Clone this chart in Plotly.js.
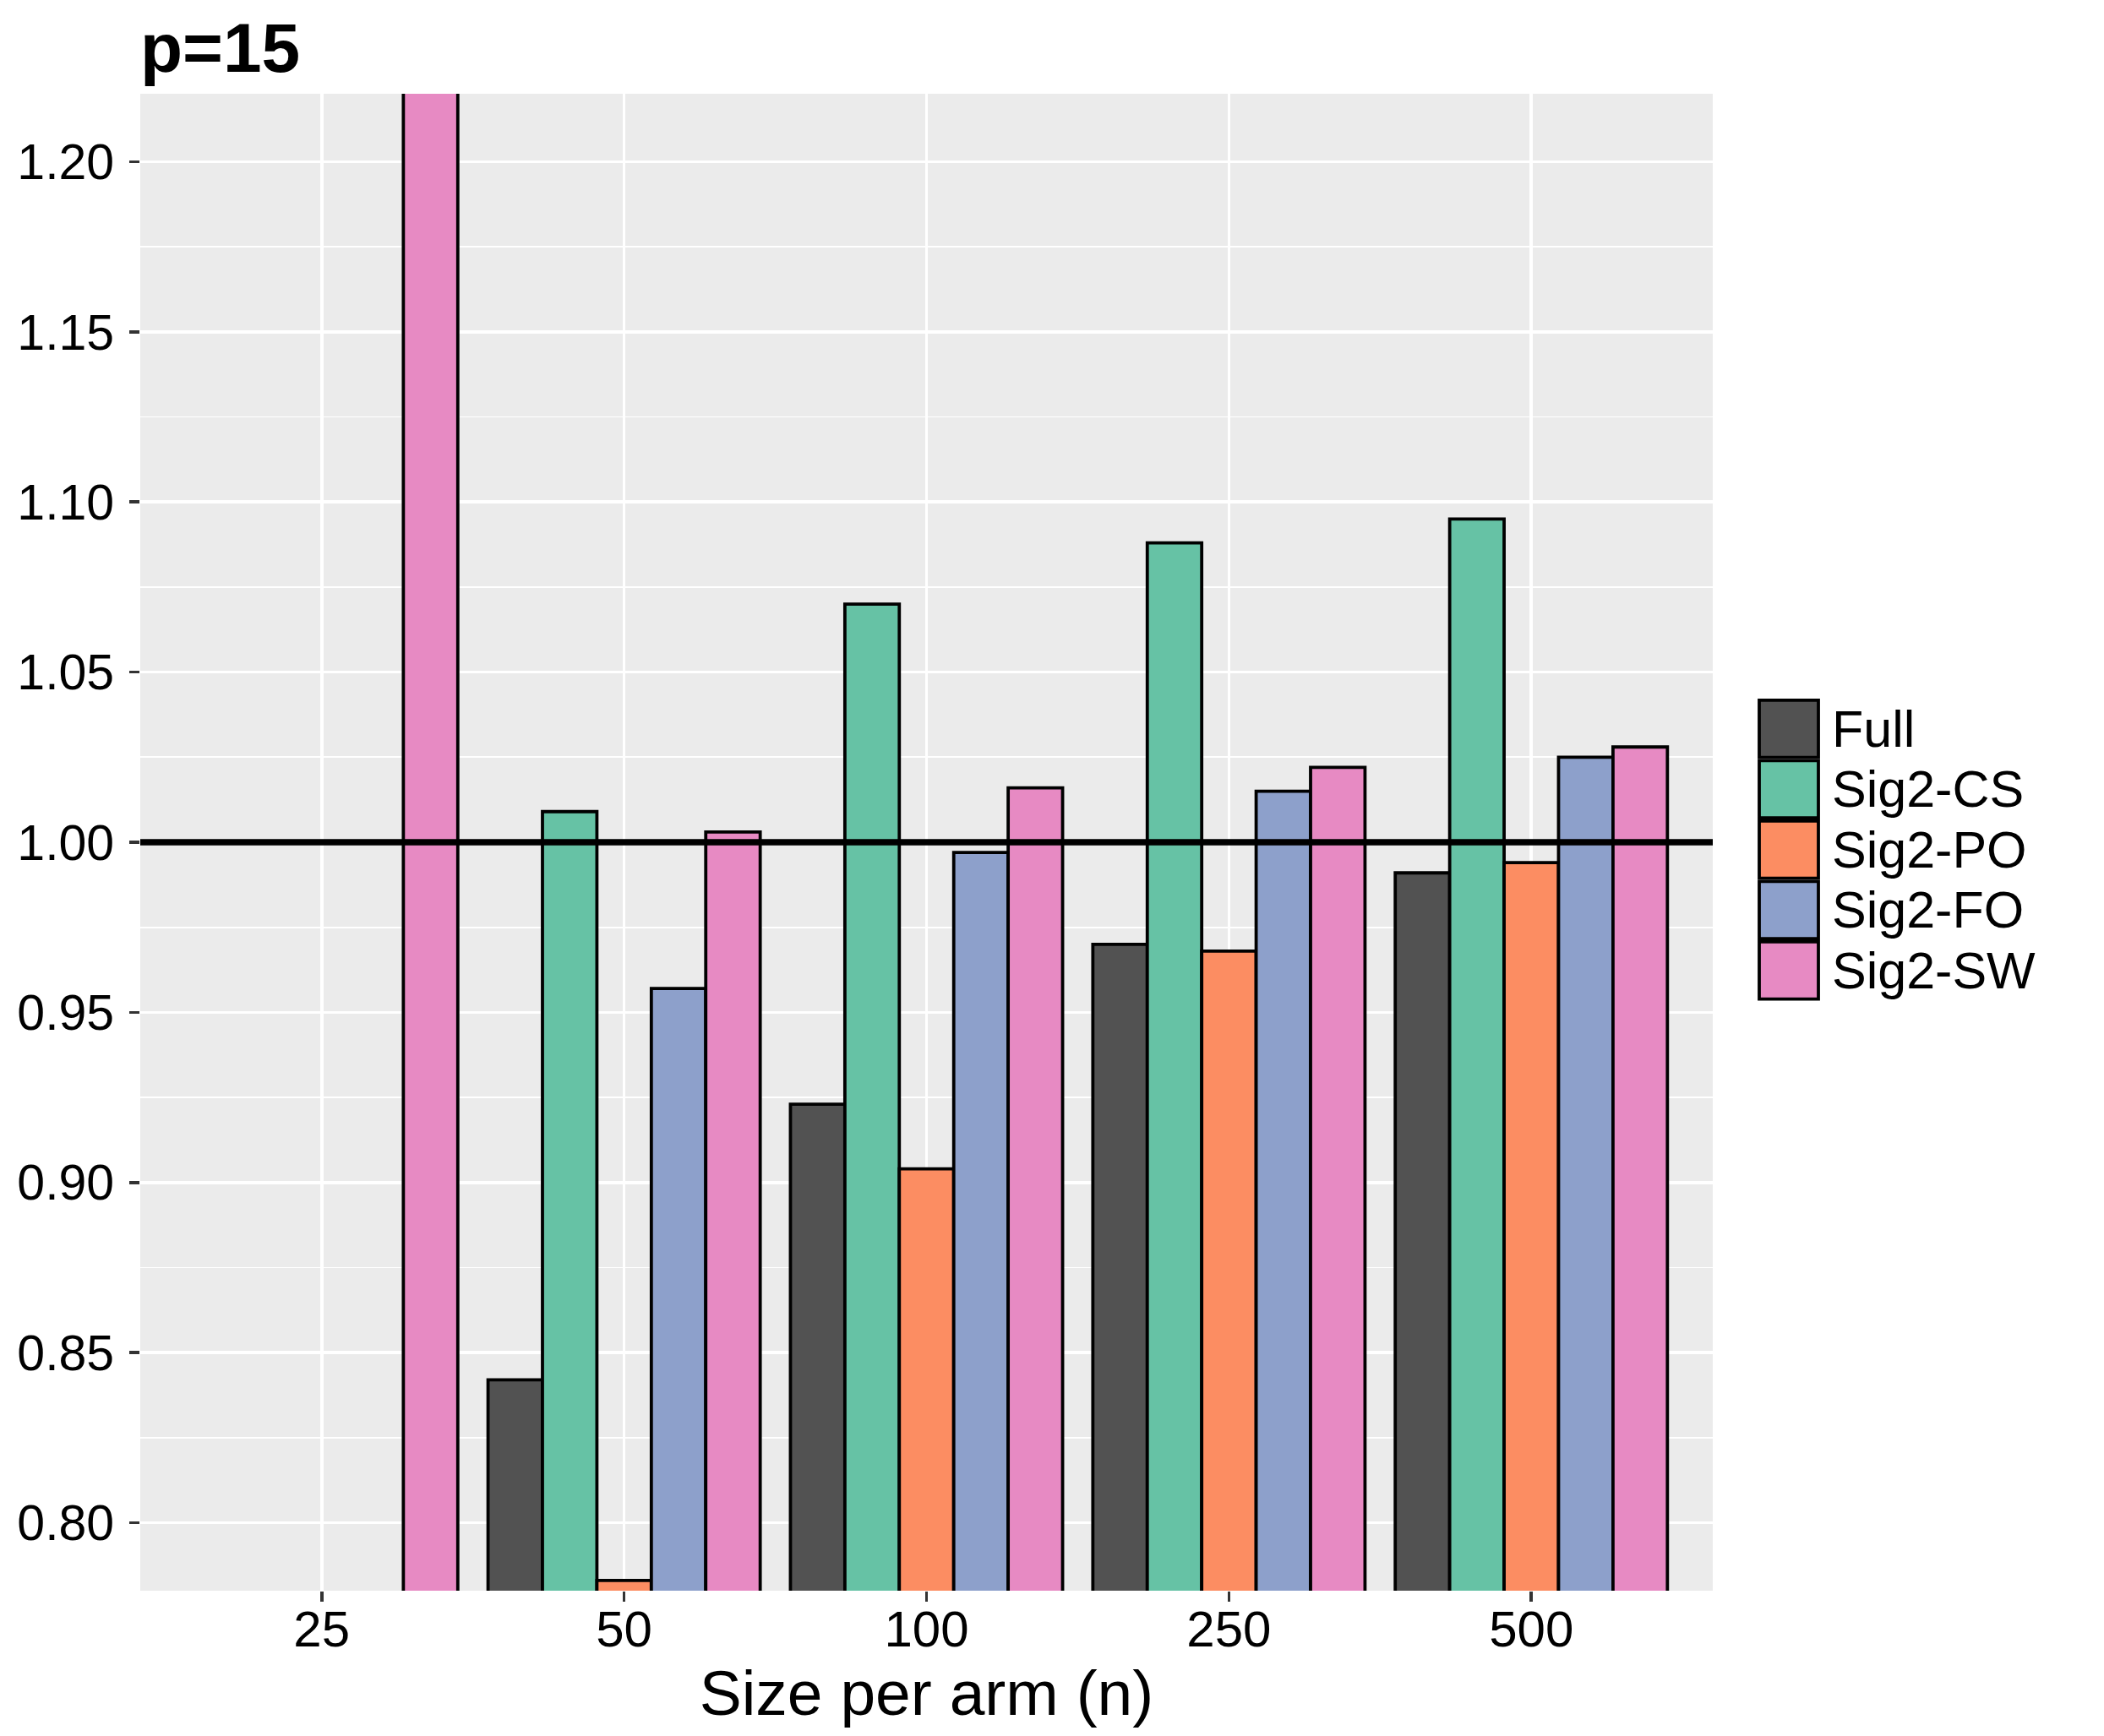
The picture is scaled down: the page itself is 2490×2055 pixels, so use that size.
<!DOCTYPE html>
<html>
<head>
<meta charset="utf-8">
<script src="https://cdn.plot.ly/plotly-3.0.1.min.js"></script>
<style>
  html, body { margin: 0; padding: 0; background: #ffffff; }
  #chart { width: 2490px; height: 2055px; }
</style>
</head>
<body>
<div id="chart"></div>
<script>
// ---- data ----
const chartTitle = 'p=15';
const xTitle = 'Size per arm (n)';
const sizes = ['25', '50', '100', '250', '500'];
const seriesNames = ['Full', 'Sig2-CS', 'Sig2-PO', 'Sig2-FO', 'Sig2-SW'];
const seriesColors = ['#525252', '#66C2A5', '#FC8D62', '#8DA0CB', '#E78AC3'];
const full   = [null, 0.842, 0.923, 0.970, 0.991];
const sig2CS = [null, 1.009, 1.070, 1.088, 1.095];
const sig2PO = [null, 0.783, 0.904, 0.968, 0.994];
const sig2FO = [null, 0.957, 0.997, 1.015, 1.025];
const sig2SW = [1.250, 1.003, 1.016, 1.022, 1.028];
const referenceLevel = 1.0;
const yTickValues = [0.80, 0.85, 0.90, 0.95, 1.00, 1.05, 1.10, 1.15, 1.20];

const seriesValues = [full, sig2CS, sig2PO, sig2FO, sig2SW];

// ---- geometry (pixels of the 2490x2055 canvas) ----
const W = 2490, H = 2055;
const M = { l: 166, r: 463, t: 111, b: 172 };
const plotW = W - M.l - M.r;
const plotH = H - M.t - M.b;
const FONT = 'Liberation Sans, Arial, Helvetica, sans-serif';

const traces = seriesNames.map((name, i) => ({
  type: 'bar',
  name: name,
  x: sizes,
  y: seriesValues[i],
  marker: { color: seriesColors[i], line: { color: '#000000', width: 3.8 } },
  showlegend: false,
  hoverinfo: 'x+y+name'
}));

// legend drawn as shapes + annotations (ggplot-style large keys)
const legendKeyLeft = 2082, legendKeyRight = 2152, legendTop = 827, legendStep = 71.5, legendTextX = 2166;
const px2x = px => (px - M.l) / plotW;
const py2y = py => (M.t + plotH - py) / plotH;

const shapes = [{
  type: 'line', xref: 'paper', x0: 0, x1: 1, yref: 'y', y0: referenceLevel, y1: referenceLevel,
  line: { color: '#000000', width: 7.5 }, layer: 'above'
}];
const annotations = [];
seriesNames.forEach((name, i) => {
  const top = legendTop + i * legendStep + 1.8;
  const bot = legendTop + (i + 1) * legendStep - 1.8;
  shapes.push({
    type: 'rect', xref: 'paper', yref: 'paper',
    x0: px2x(legendKeyLeft), x1: px2x(legendKeyRight),
    y0: py2y(bot), y1: py2y(top),
    fillcolor: seriesColors[i], line: { color: '#000000', width: 3.8 }
  });
  annotations.push({
    xref: 'paper', yref: 'paper',
    x: px2x(legendTextX), y: py2y((top + bot) / 2),
    xanchor: 'left', yanchor: 'middle', showarrow: false,
    text: name, font: { family: FONT, size: 61, color: '#000000' }
  });
});

const layout = {
  width: W, height: H,
  margin: M,
  paper_bgcolor: '#ffffff',
  plot_bgcolor: '#EBEBEB',
  barmode: 'group',
  bargap: 0.1,
  bargroupgap: 0,
  showlegend: false,
  font: { family: FONT, color: '#000000' },
  title: {
    text: chartTitle,
    font: { family: FONT, size: 82, color: '#000000', weight: 'bold' },
    xref: 'paper', x: 0, xanchor: 'left',
    yref: 'container', y: 1 - 85 / H, yanchor: 'bottom',
    pad: { t: 0, b: 0, l: 0, r: 0 }
  },
  xaxis: {
    type: 'category',
    range: [-0.6, sizes.length - 0.4],
    showgrid: true, gridcolor: '#ffffff', gridwidth: 3.6,
    zeroline: false, showline: false,
    ticks: 'outside', ticklen: 12, tickwidth: 3.6, tickcolor: '#333333',
    tickfont: { family: FONT, size: 60, color: '#000000' },
    ticklabelstandoff: -19,
    automargin: false,
    title: { text: xTitle, font: { family: FONT, size: 75, color: '#000000' }, standoff: 10 }
  },
  yaxis: {
    range: [0.78, 1.22],
    tickvals: yTickValues,
    tickformat: '.2f',
    showgrid: true, gridcolor: '#ffffff', gridwidth: 3.6,
    minor: { dtick: 0.025, tick0: 0.8, showgrid: true, gridcolor: '#ffffff', gridwidth: 1.8, ticks: '' },
    zeroline: false, showline: false,
    ticks: 'outside', ticklen: 12, tickwidth: 3.6, tickcolor: '#333333',
    tickfont: { family: FONT, size: 59, color: '#000000' },
    ticklabelstandoff: 6,
    automargin: false
  },
  shapes: shapes,
  annotations: annotations
};

Plotly.newPlot('chart', traces, layout, { displayModeBar: false, staticPlot: true });
</script>
</body>
</html>
